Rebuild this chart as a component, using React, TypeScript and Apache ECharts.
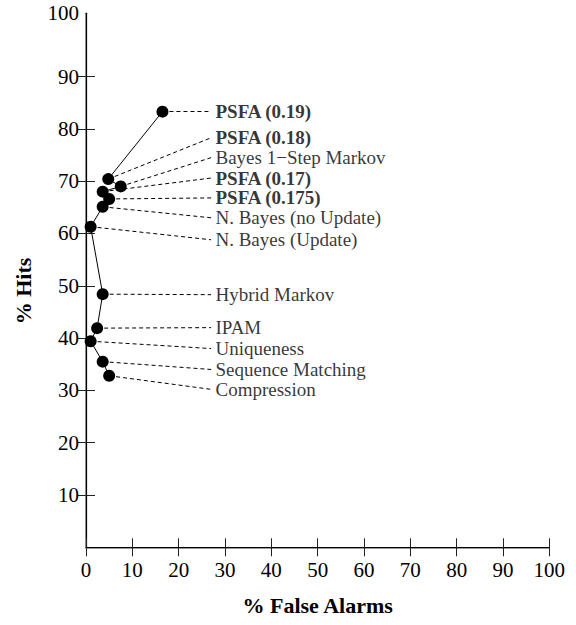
import { useEffect, useRef } from 'react';
import * as echarts from 'echarts';

// Methods, ordered from highest to lowest hit rate
const methods = [
  'PSFA (0.19)',
  'PSFA (0.18)',
  'Bayes 1\u2212Step Markov',
  'PSFA (0.17)',
  'PSFA (0.175)',
  'N. Bayes (no Update)',
  'N. Bayes (Update)',
  'Hybrid Markov',
  'IPAM',
  'Uniqueness',
  'Sequence Matching',
  'Compression',
];
// % False Alarms
const falseAlarms = [16.5, 4.8, 7.5, 3.6, 5.0, 3.6, 1.0, 3.6, 2.4, 1.0, 3.6, 5.0];
// % Hits
const hits = [83.3, 70.4, 69.0, 68.0, 66.6, 65.1, 61.3, 48.4, 41.9, 39.4, 35.5, 32.8];
// Hit value at which each method's annotation text sits
const labelHits = [83.3, 78.3, 74.5, 70.6, 66.8, 63.0, 58.8, 48.3, 42.0, 38.0, 34.0, 30.2];
// annotation column (in % False Alarms units)
const labelX = 27.3;
const leaderEndX = 27.0;

const yTickValues = [10, 20, 30, 40, 50, 60, 70, 80, 90];
const yTopValue = 102.1;
const yTopLabel = '100';

const FONT = '"Liberation Serif", "DejaVu Serif", serif';

export default function App() {
  const ref = useRef<HTMLDivElement>(null);

  useEffect(() => {
    if (!ref.current) return;
    const chart = echarts.init(ref.current, null, { renderer: 'svg' });

    const points = falseAlarms.map((x, i) => [x, hits[i]]);
    const leaders = methods.map((m, i) => ({
      coords: [
        [falseAlarms[i], hits[i]],
        [leaderEndX, labelHits[i]],
      ],
    }));
    const anchors = methods.map((m, i) => ({
      name: m,
      value: [labelX, labelHits[i]],
      label: { fontWeight: m.startsWith('PSFA') ? 'bold' : 'normal' },
    }));

    const tickStyle = { color: '#222', width: 1 };

    chart.setOption({
      animation: false,
      backgroundColor: '#fff',
      grid: { left: 86, right: 26.7, top: 13.3, bottom: 77.7 },
      xAxis: [
        {
          type: 'value',
          position: 'bottom',
          min: 0,
          max: 100,
          interval: 10,
          axisLine: { show: true, lineStyle: { color: '#7a7a7a', width: 1.5 } },
          axisTick: { show: true, inside: true, length: 9, lineStyle: tickStyle },
          splitLine: { show: false },
          axisLabel: { fontFamily: FONT, fontSize: 21, color: '#000', margin: 12 },
          name: '% False Alarms',
          nameLocation: 'middle',
          nameGap: 47,
          nameTextStyle: { fontFamily: FONT, fontSize: 22, fontWeight: 'bold', color: '#000' },
        },
        {
          type: 'value',
          position: 'top',
          min: 0,
          max: 100,
          interval: 10,
          axisLine: { show: true, lineStyle: { color: '#000', width: 1.2 } },
          axisTick: { show: true, inside: true, length: 9, lineStyle: tickStyle },
          splitLine: { show: false },
          axisLabel: { show: false },
        },
      ],
      yAxis: [
        {
          type: 'value',
          position: 'left',
          min: 0,
          max: yTopValue,
          axisLine: { show: true, lineStyle: { color: '#7a7a7a', width: 1.5 } },
          axisTick: { show: true, inside: true, length: 9, lineStyle: tickStyle, customValues: yTickValues },
          splitLine: { show: false },
          axisLabel: {
            fontFamily: FONT,
            fontSize: 21,
            color: '#000',
            margin: 7,
            customValues: [...yTickValues, yTopValue],
            formatter: (v: number) => (v > 100 ? yTopLabel : String(v)),
          },
        },
        {
          type: 'value',
          position: 'right',
          min: 0,
          max: yTopValue,
          axisLine: { show: true, lineStyle: { color: '#000', width: 1.2 } },
          axisTick: { show: true, inside: true, length: 9, lineStyle: tickStyle, customValues: yTickValues },
          splitLine: { show: false },
          axisLabel: { show: false },
        },
      ],
      series: [
        {
          type: 'lines',
          coordinateSystem: 'cartesian2d',
          xAxisIndex: 0,
          yAxisIndex: 0,
          silent: true,
          z: 1,
          lineStyle: { color: '#000', width: 1, type: [4, 3], opacity: 1 },
          data: leaders,
        },
        {
          type: 'line',
          xAxisIndex: 0,
          yAxisIndex: 0,
          data: points,
          symbol: 'circle',
          symbolSize: 12,
          showAllSymbol: true,
          itemStyle: { color: '#000' },
          lineStyle: { color: '#000', width: 1 },
          z: 3,
          silent: true,
        },
        {
          type: 'scatter',
          xAxisIndex: 0,
          yAxisIndex: 0,
          symbolSize: 0,
          silent: true,
          z: 4,
          data: anchors,
          label: {
            show: true,
            position: 'right',
            distance: 3,
            formatter: '{b}',
            fontFamily: FONT,
            fontSize: 19,
            lineHeight: 17,
            color: '#000',
          },
        },
      ],
      graphic: [
        {
          type: 'text',
          x: 23,
          y: 291,
          rotation: Math.PI / 2,
          style: {
            text: '% Hits',
            fontFamily: FONT,
            fontSize: 22,
            fontWeight: 'bold',
            fill: '#000',
            align: 'center',
            verticalAlign: 'middle',
          },
        },
      ],
    });

    return () => chart.dispose();
  }, []);

  return (
    <div
      ref={ref}
      style={{ position: 'absolute', left: 0, top: 0, width: 576, height: 625, background: '#fff' }}
    />
  );
}
